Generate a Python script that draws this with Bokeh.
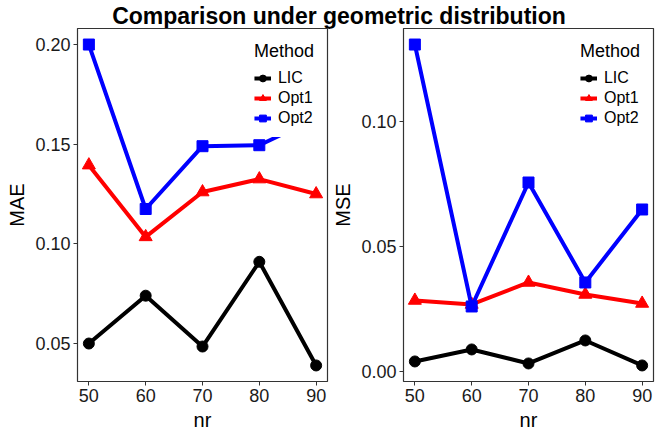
from bokeh.plotting import figure
from bokeh.layouts import column, row
from bokeh.models import Div, FixedTicker, NumeralTickFormatter, Range1d, Legend, LegendItem
from bokeh.embed import file_html
from bokeh.resources import INLINE

# ---- data ----
nr = [50, 60, 70, 80, 90]
methods = ["LIC", "Opt1", "Opt2"]
mae_lic = [0.0500, 0.0740, 0.0485, 0.0910, 0.0390]
mae_opt1 = [0.1395, 0.1035, 0.1260, 0.1325, 0.1250]
mae_opt2 = [0.2000, 0.1175, 0.1490, 0.1495, 0.1630]
mse_lic = [0.0040, 0.0088, 0.0032, 0.0124, 0.0024]
mse_opt1 = [0.0284, 0.0268, 0.0356, 0.0308, 0.0272]
mse_opt2 = [0.1308, 0.0260, 0.0756, 0.0356, 0.0648]
mae_ticks = [0.05, 0.10, 0.15, 0.20]
mse_ticks = [0.00, 0.05, 0.10]
x_ticks = [50, 60, 70, 80, 90]
title_text = "Comparison under geometric distribution"

colors = {"LIC": "black", "Opt1": "#FF0000", "Opt2": "#0000FF"}
markers = {"LIC": "circle", "Opt1": "triangle", "Opt2": "square"}
msizes = {"LIC": 11, "Opt1": 13, "Opt2": 11}

FONT = "Liberation Sans"
AX = "#333333"


def expand(vals, frac=0.05):
    lo, hi = min(vals), max(vals)
    d = (hi - lo) * frac
    return lo - d, hi + d


def panel(ylabel, series, yticks, mb_left, mb_right):
    allv = [v for s in series for v in s]
    y0, y1 = expand(allv)
    x0, x1 = expand(nr)
    p = figure(frame_width=250, frame_height=353, output_backend="svg",
               toolbar_location=None, x_range=Range1d(x0, x1), y_range=Range1d(y0, y1),
               min_border_left=mb_left, min_border_right=mb_right,
               min_border_top=0, min_border_bottom=50)
    p.background_fill_color = "white"
    p.border_fill_color = "white"
    p.outline_line_color = AX
    p.outline_line_width = 1.2
    p.xgrid.visible = False
    p.ygrid.visible = False
    items = []
    for m, vals in zip(methods, series):
        l = p.line(nr, vals, line_color=colors[m], line_width=4)
        s = p.scatter(nr, vals, marker=markers[m], size=msizes[m],
                      fill_color=colors[m], line_color=colors[m])
        items.append(LegendItem(label=m, renderers=[l, s]))
    for ax in (p.xaxis[0], p.yaxis[0]):
        ax.axis_line_color = None
        ax.major_tick_line_color = AX
        ax.major_tick_out = 4
        ax.major_tick_in = 0
        ax.minor_tick_line_color = None
        ax.major_label_text_font = FONT
        ax.major_label_text_font_size = "18px"
        ax.major_label_text_color = "#1A1A1A"
        ax.major_label_standoff = 3
        ax.axis_label_text_font = FONT
        ax.axis_label_text_font_size = "20px"
        ax.axis_label_text_font_style = "normal"
        ax.axis_label_text_color = "black"
        ax.axis_label_standoff = 4
    p.xaxis.ticker = FixedTicker(ticks=x_ticks)
    p.yaxis.ticker = FixedTicker(ticks=yticks)
    p.yaxis.formatter = NumeralTickFormatter(format="0.00")
    p.xaxis.axis_label = "nr"
    p.yaxis.axis_label = ylabel
    leg = Legend(items=items, title="Method", location="top_right")
    leg.margin = 4
    leg.padding = 9
    leg.spacing = 0
    leg.label_standoff = 7
    leg.glyph_width = 17
    leg.glyph_height = 20
    leg.label_height = 20
    leg.label_text_font = FONT
    leg.label_text_font_size = "16px"
    leg.label_text_color = "black"
    leg.title_text_font = FONT
    leg.title_text_font_size = "18px"
    leg.title_text_font_style = "normal"
    leg.title_text_color = "black"
    leg.title_standoff = 6
    leg.border_line_alpha = 0
    leg.background_fill_color = "white"
    leg.background_fill_alpha = 1
    p.add_layout(leg)
    return p


p1 = panel("MAE", [mae_lic, mae_opt1, mae_opt2], mae_ticks, 77, 2)
p2 = panel("MSE", [mse_lic, mse_opt1, mse_opt2], mse_ticks, 70, 2)

title = Div(text=('<div style="width:668px;text-align:center;font-family:\'Liberation Sans\';'
                  'font-weight:bold;font-size:23px;line-height:22px;color:black;">'
                  + title_text + '</div>'), width=648, height=18)

layout = column(title, row(p1, p2, spacing=0), spacing=0)

open("out.html", "w").write(file_html(layout, INLINE))
